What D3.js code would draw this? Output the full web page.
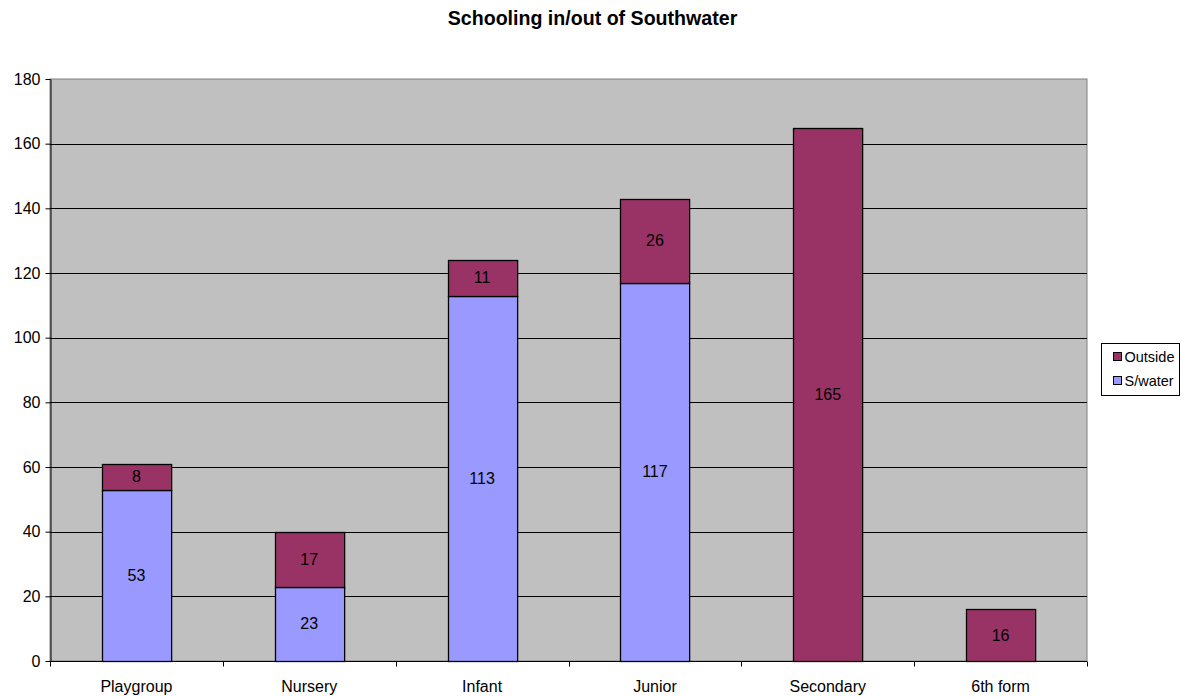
<!DOCTYPE html>
<html>
<head>
<meta charset="utf-8">
<script src="https://cdn.jsdelivr.net/npm/d3@7"></script>
<style>
  body { margin: 0; background: #fff; }
  svg { display: block; font-family: "Liberation Sans", Arial, sans-serif; }
</style>
</head>
<body>
<div id="main"></div>
<script>
// chart data
const categories = ["Playgroup", "Nursery", "Infant", "Junior", "Secondary", "6th form"];
const swater = [53, 23, 113, 117, 0, 0];
const outside = [8, 17, 11, 26, 165, 16];
const yTicks = [0, 20, 40, 60, 80, 100, 120, 140, 160, 180];
const seriesNames = ["S/water", "Outside"];
const colors = { "S/water": "#9999FF", "Outside": "#993366" };

const width = 1187, height = 697;
const margin = { top: 79, right: 100, bottom: 36, left: 50 };

const rows = categories.map((c, i) => ({ cat: c, "S/water": swater[i], "Outside": outside[i] }));
const stacked = d3.stack().keys(seriesNames)(rows);

const x = d3.scaleBand()
    .domain(categories)
    .range([margin.left, width - margin.right])
    .paddingInner(0.6)
    .paddingOuter(0.3);

const xEdge = d3.scaleLinear()
    .domain([0, categories.length])
    .range([margin.left, width - margin.right]);

const y = d3.scaleLinear()
    .domain([0, 180])
    .range([height - margin.bottom, margin.top]);

const svg = d3.select("#main").append("svg")
    .attr("width", width)
    .attr("height", height);

// plot background
svg.append("rect")
    .attr("x", margin.left)
    .attr("y", margin.top)
    .attr("width", width - margin.right - margin.left)
    .attr("height", y(0) - margin.top)
    .attr("fill", "#C0C0C0")
    .attr("stroke", "#808080")
    .attr("stroke-width", 1);

// gridlines
svg.append("g")
    .selectAll("line")
    .data(yTicks.filter(d => d > 0 && d < 180))
    .join("line")
    .attr("x1", margin.left)
    .attr("x2", width - margin.right)
    .attr("y1", d => Math.round(y(d)) + 0.5)
    .attr("y2", d => Math.round(y(d)) + 0.5)
    .attr("stroke", "#000")
    .attr("stroke-width", 1);

// bars
svg.append("g")
    .selectAll("g")
    .data(stacked)
    .join("g")
    .attr("fill", d => colors[d.key])
    .selectAll("rect")
    .data(d => d)
    .join("rect")
    .filter(d => d[1] - d[0] > 0)
    .attr("x", d => Math.round(x(d.data.cat)) + 0.5)
    .attr("y", d => Math.round(y(d[1])) + 0.5)
    .attr("width", x.bandwidth())
    .attr("height", d => Math.round(y(d[0])) - Math.round(y(d[1])))
    .attr("stroke", "#000")
    .attr("stroke-width", 1.3);

// data labels
svg.append("g")
    .selectAll("g")
    .data(stacked)
    .join("g")
    .selectAll("text")
    .data(d => d.filter(v => v[1] - v[0] > 0))
    .join("text")
    .attr("x", d => x(d.data.cat) + x.bandwidth() / 2)
    .attr("y", d => y((d[0] + d[1]) / 2))
    .attr("dy", "0.35em")
    .attr("text-anchor", "middle")
    .attr("font-size", 16)
    .attr("fill", "#000")
    .text(d => d[1] - d[0]);

// y axis
const yAxis = svg.append("g")
    .attr("transform", `translate(${margin.left + 0.5},0)`)
    .call(d3.axisLeft(y).tickValues(yTicks).tickSize(5).tickSizeOuter(0).tickPadding(5));
yAxis.select(".domain").attr("stroke", "#000");
yAxis.selectAll("text").attr("font-size", 16).attr("font-family", "Liberation Sans, Arial, sans-serif").attr("fill", "#000");

// x axis
const xAxisG = svg.append("g")
    .attr("transform", `translate(0,${Math.round(y(0)) + 0.5})`);
xAxisG.append("line")
    .attr("x1", margin.left)
    .attr("x2", width - margin.right)
    .attr("stroke", "#000");
xAxisG.selectAll(".tk")
    .data(d3.range(categories.length + 1))
    .join("line")
    .attr("class", "tk")
    .attr("x1", d => Math.round(xEdge(d)) + 0.5)
    .attr("x2", d => Math.round(xEdge(d)) + 0.5)
    .attr("y1", 0)
    .attr("y2", 5)
    .attr("stroke", "#000");
xAxisG.selectAll("text")
    .data(categories)
    .join("text")
    .attr("x", d => x(d) + x.bandwidth() / 2)
    .attr("y", 30)
    .attr("text-anchor", "middle")
    .attr("font-size", 16)
    .attr("fill", "#000")
    .text(d => d);

// title
svg.append("text")
    .attr("x", width / 2 - 1)
    .attr("y", 25)
    .attr("text-anchor", "middle")
    .attr("font-size", 19.6)
    .attr("font-weight", "bold")
    .text("Schooling in/out of Southwater");

// legend
const legend = svg.append("g").attr("transform", "translate(1101.5,343.5)");
legend.append("rect")
    .attr("width", 78)
    .attr("height", 52)
    .attr("fill", "#fff")
    .attr("stroke", "#000");
const legendKeys = ["Outside", "S/water"];
const li = legend.selectAll("g")
    .data(legendKeys)
    .join("g")
    .attr("transform", (d, i) => `translate(12,${13 + i * 24})`);
li.append("rect")
    .attr("width", 8)
    .attr("height", 8)
    .attr("y", -4)
    .attr("fill", d => colors[d])
    .attr("stroke", "#000");
li.append("text")
    .attr("x", 11)
    .attr("dy", "0.35em")
    .attr("font-size", 14.5)
    .text(d => d);
</script>
</body>
</html>
